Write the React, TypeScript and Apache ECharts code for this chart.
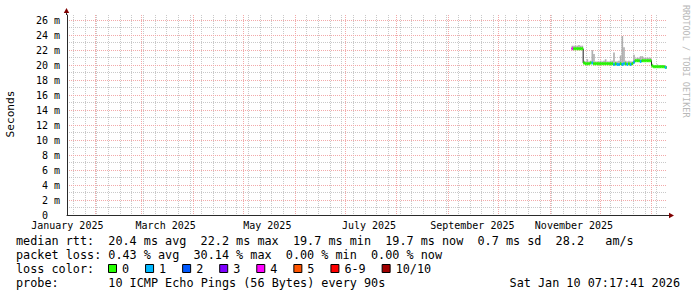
import React, { useEffect, useRef } from "react";
import * as echarts from "echarts";

// ---- time frame (graph covers the last 360 days) ----
const START = Date.UTC(2025, 0, 15, 7, 17, 41);
const END = Date.UTC(2026, 0, 10, 7, 17, 41);
const DAY = 86400000;

// ---- x axis labels ----
const xLabelDates = [
  "2025-01-15T12:00:00Z",
  "2025-03-15T12:00:00Z",
  "2025-05-15T12:00:00Z",
  "2025-07-15T12:00:00Z",
  "2025-09-15T12:00:00Z",
  "2025-11-15T12:00:00Z",
];
const xLabels = ["January 2025", "March 2025", "May 2025", "July 2025", "September 2025", "November 2025"];

// ---- y axis (milliseconds) ----
const yMax = 26.7;
const yLabelValues = [0, 2, 4, 6, 8, 10, 12, 14, 16, 18, 20, 22, 24, 26];
const yMajorGrid = [2, 4, 6, 8, 10, 12, 14, 16, 18, 20, 22, 24, 26];
const yMinorGrid = [1, 3, 5, 7, 9, 11, 13, 15, 17, 19, 21, 23, 25];

// ---- data: one value per day, first day 2025-11-14 ----
const firstDay = "2025-11-14T00:00:00Z";
const medianMs = [
  22.2, 22.2, 22.2, 22.2, 22.2, 22.2, 22.2,
  20.3, 20.2, 20.2, 20.2, 20.3, 20.3, 20.2,
  20.2, 20.2, 20.2, 20.2, 20.2, 20.2, 20.2,
  20.2, 20.2, 20.2, 20.2, 20.1, 20.2, 20.1,
  20.1, 20.2, 20.1, 20.2, 20.2, 20.1, 20.2,
  20.1, 20.2, 20.4, 20.6, 20.6, 20.6, 20.5,
  20.6, 20.6, 20.6, 20.6, 20.6, 20.6, 19.9,
  19.8, 19.8, 19.8, 19.8, 19.8, 19.8, 19.8,
  19.7, 19.7,
];
const lossCount = [
  4, 0, 0, 0, 0, 0, 0,
  0, 0, 0, 0, 0, 1, 0,
  0, 0, 0, 0, 0, 0, 0,
  0, 0, 0, 0, 1, 0, 1,
  1, 0, 1, 1, 0, 1, 0,
  1, 0, 1, 0, 0, 0, 1,
  0, 0, 0, 0, 0, 0, 0,
  0, 0, 0, 0, 0, 0, 0,
  1, 0,
];
const smokeMaxMs = [
  22.6, 22.6, 22.6, 22.6, 22.7, 22.6, 22.6,
  20.6, 20.5, 20.8, 20.5, 20.6, 22.0, 21.5,
  20.5, 20.5, 20.5, 20.6, 20.5, 20.6, 20.8,
  20.5, 20.5, 20.6, 20.6, 21.7, 20.5, 20.5,
  20.6, 21.3, 23.9, 22.4, 20.6, 20.5, 20.6,
  20.5, 20.5, 21.4, 20.9, 21.0, 21.0, 21.2,
  21.2, 21.0, 21.0, 21.0, 21.0, 21.0, 20.2,
  20.0, 20.0, 20.1, 20.0, 20.0, 20.0, 20.0,
  19.9, 19.9,
];

// ---- legend ----
const lossLabels = ["0", "1", "2", "3", "4", "5", "6-9", "10/10"];
const lossColors = ["#26ff00", "#00b8ff", "#0059ff", "#7e00ff", "#ff00ff", "#ff5500", "#ff0000", "#a10000"];
const statLine1 = [
  { col: 0, text: "median rtt:" },
  { col: 13, text: "20.4 ms avg" },
  { col: 26, text: "22.2 ms max" },
  { col: 39, text: "19.7 ms min" },
  { col: 52, text: "19.7 ms now" },
  { col: 65, text: "0.7 ms sd" },
  { col: 76, text: "28.2" },
  { col: 83, text: "am/s" },
];
const statLine2 = [
  { col: 0, text: "packet loss:" },
  { col: 13, text: "0.43 % avg" },
  { col: 25, text: "30.14 % max" },
  { col: 38, text: "0.00 % min" },
  { col: 50, text: "0.00 % now" },
];
const probeLine = [
  { col: 0, text: "probe:" },
  { col: 13, text: "10 ICMP Echo Pings (56 Bytes) every 90s" },
];
const dateText = "Sat Jan 10 07:17:41 2026";

const MONO = "'DejaVu Sans Mono', monospace";

function lossIndex(l: number) {
  if (l <= 5) return l;
  if (l < 10) return 6;
  return 7;
}

export default function App() {
  const ref = useRef<HTMLDivElement>(null);
  useEffect(() => {
    document.body.style.margin = "0";
    const chart = echarts.init(ref.current!, undefined, { renderer: "svg" });

    const xLabelValues = xLabelDates.map((d) => Date.parse(d));
    const monthStarts: number[] = [];
    for (let m = 0; m < 14; m++) {
      const t = Date.UTC(2025, m, 1);
      if (t > START && t < END) monthStarts.push(t);
    }
    const sundays: number[] = [];
    for (let t = Date.UTC(2025, 0, 19); t < END; t += 7 * DAY) sundays.push(t);

    const first = Date.parse(firstDay);
    const items = medianMs.map((m, i) => {
      const t0 = first + i * DAY;
      const t1 = Math.min(t0 + DAY, END);
      return [t0, t1, m, lossCount[i], smokeMaxMs[i]];
    });
    const stepData = items.map((it) => [it[0], it[2]]);
    stepData.push([END, medianMs[medianMs.length - 1]]);

    const textEl = (x: number, y: number, text: string, size = 11.8, align = "left") => ({
      type: "text",
      x,
      y,
      silent: true,
      style: {
        text,
        fill: "#000",
        fontFamily: MONO,
        fontSize: size,
        align,
        verticalAlign: "middle",
      },
    });
    const CW = 7.1;
    const L = 16;
    const graphics: any[] = [];
    // axis extensions and arrows
    graphics.push({
      type: "line",
      silent: true,
      shape: { x1: 667, y1: 215.5, x2: 670, y2: 215.5 },
      style: { stroke: "#2a2a2a", lineWidth: 1 },
    });
    graphics.push({
      type: "line",
      silent: true,
      shape: { x1: 66.5, y1: 15, x2: 66.5, y2: 12 },
      style: { stroke: "#2a2a2a", lineWidth: 1 },
    });
    graphics.push({
      type: "polygon",
      silent: true,
      shape: { points: [[669, 212.8], [674, 215.5], [669, 218.2]] },
      style: { fill: "#7f0000" },
    });
    graphics.push({
      type: "polygon",
      silent: true,
      shape: { points: [[63.8, 13], [66.5, 8], [69.2, 13]] },
      style: { fill: "#7f0000" },
    });
    statLine1.forEach((s) => graphics.push(textEl(L + s.col * CW, 241, s.text)));
    statLine2.forEach((s) => graphics.push(textEl(L + s.col * CW, 255, s.text)));
    graphics.push(textEl(L, 269, "loss color:"));
    let bx = 108;
    lossLabels.forEach((lab, i) => {
      graphics.push({
        type: "rect",
        silent: true,
        shape: { x: bx + 0.5, y: 264.5, width: 8, height: 8 },
        style: { fill: lossColors[i], stroke: "#000", lineWidth: 1 },
      });
      graphics.push(textEl(bx + 14, 269, lab));
      bx = bx + 14 + lab.length * 7.07 + 16;
    });
    probeLine.forEach((s) => graphics.push(textEl(L + s.col * CW, 283, s.text)));
    graphics.push(textEl(680, 283, dateText, 11.8, "right"));
    graphics.push({
      type: "text",
      x: 10,
      y: 114,
      rotation: Math.PI / 2,
      silent: true,
      style: { text: "Seconds", fill: "#000", fontFamily: MONO, fontSize: 11.2, align: "center", verticalAlign: "middle" },
    });
    graphics.push({
      type: "text",
      x: 686,
      y: 5,
      rotation: -Math.PI / 2,
      silent: true,
      style: { text: "RRDTOOL / TOBI OETIKER", fill: "#b8b8b8", fontFamily: MONO, fontSize: 8.5, align: "left", verticalAlign: "middle" },
    });

    const majorGrid = { show: true, lineStyle: { color: "#f2a9a9", width: 1, type: [1, 1] } };
    const minorGrid = { show: true, lineStyle: { color: "#c9c9c9", width: 1, type: [1, 1] } };

    chart.setOption({
      animation: false,
      backgroundColor: "#ffffff",
      grid: { left: 67, top: 15, width: 600, height: 200, containLabel: false },
      xAxis: [
        {
          type: "value",
          min: START,
          max: END,
          z: 1,
          axisLine: { show: true, onZero: false, lineStyle: { color: "#2a2a2a", width: 1 } },
          axisTick: { show: false, customValues: monthStarts },
          splitLine: majorGrid,
          axisLabel: {
            customValues: xLabelValues,
            formatter: (v: number) => {
              const i = xLabelValues.indexOf(v);
              return i >= 0 ? xLabels[i] : "";
            },
            fontFamily: MONO,
            fontSize: 10,
            lineHeight: 10,
            color: "#000",
            margin: 5,
            hideOverlap: false,
          },
        },
        {
          type: "value",
          min: START,
          max: END,
          z: 0,
          axisLine: { show: false },
          axisTick: { show: false, customValues: sundays },
          axisLabel: { show: false },
          splitLine: minorGrid,
        },
      ],
      yAxis: [
        {
          type: "value",
          min: 0,
          max: yMax,
          z: 1,
          axisLine: { show: true, onZero: false, lineStyle: { color: "#2a2a2a", width: 1 } },
          axisTick: { show: false, customValues: yMajorGrid },
          splitLine: majorGrid,
          axisLabel: {
            customValues: yLabelValues,
            formatter: (v: number) => (v === 0 ? "{z|0}" : `${v} m`),
            fontFamily: MONO,
            fontSize: 10,
            lineHeight: 10,
            color: "#000",
            margin: 7,
            rich: { z: { padding: [0, 12, 0, 0], fontFamily: MONO, fontSize: 10, lineHeight: 10, color: "#000" } },
          },
        },
        {
          type: "value",
          min: 0,
          max: yMax,
          z: 0,
          position: "left",
          axisLine: { show: false },
          axisTick: { show: false, customValues: yMinorGrid },
          axisLabel: { show: false },
          splitLine: minorGrid,
        },
      ],
      graphic: graphics,
      series: [
        {
          type: "custom",
          name: "smoke",
          xAxisIndex: 0,
          yAxisIndex: 0,
          encode: { x: [0, 1], y: [2, 4] },
          data: items,
          z: 3,
          renderItem: (params: any, api: any) => {
            const a = api.coord([api.value(0), api.value(4)]);
            const b = api.coord([api.value(1), api.value(2)]);
            return {
              type: "rect",
              shape: { x: a[0], y: a[1], width: b[0] - a[0], height: b[1] - a[1] },
              style: { fill: "#b0b0b0" },
            };
          },
        },
        {
          type: "line",
          name: "step",
          xAxisIndex: 0,
          yAxisIndex: 0,
          step: "end",
          data: stepData,
          symbol: "none",
          z: 4,
          lineStyle: { color: "#1e1e1e", width: 1 },
        },
        {
          type: "custom",
          name: "median",
          xAxisIndex: 0,
          yAxisIndex: 0,
          encode: { x: [0, 1], y: 2 },
          data: items,
          z: 5,
          renderItem: (params: any, api: any) => {
            const a = api.coord([api.value(0), api.value(2)]);
            const b = api.coord([api.value(1), api.value(2)]);
            return {
              type: "rect",
              shape: { x: a[0], y: a[1] - 1.5, width: b[0] - a[0], height: 3 },
              style: { fill: lossColors[lossIndex(api.value(3))] },
            };
          },
        },
      ],
    });
    return () => chart.dispose();
  }, []);
  return <div ref={ref} style={{ width: 697, height: 297 }} />;
}
